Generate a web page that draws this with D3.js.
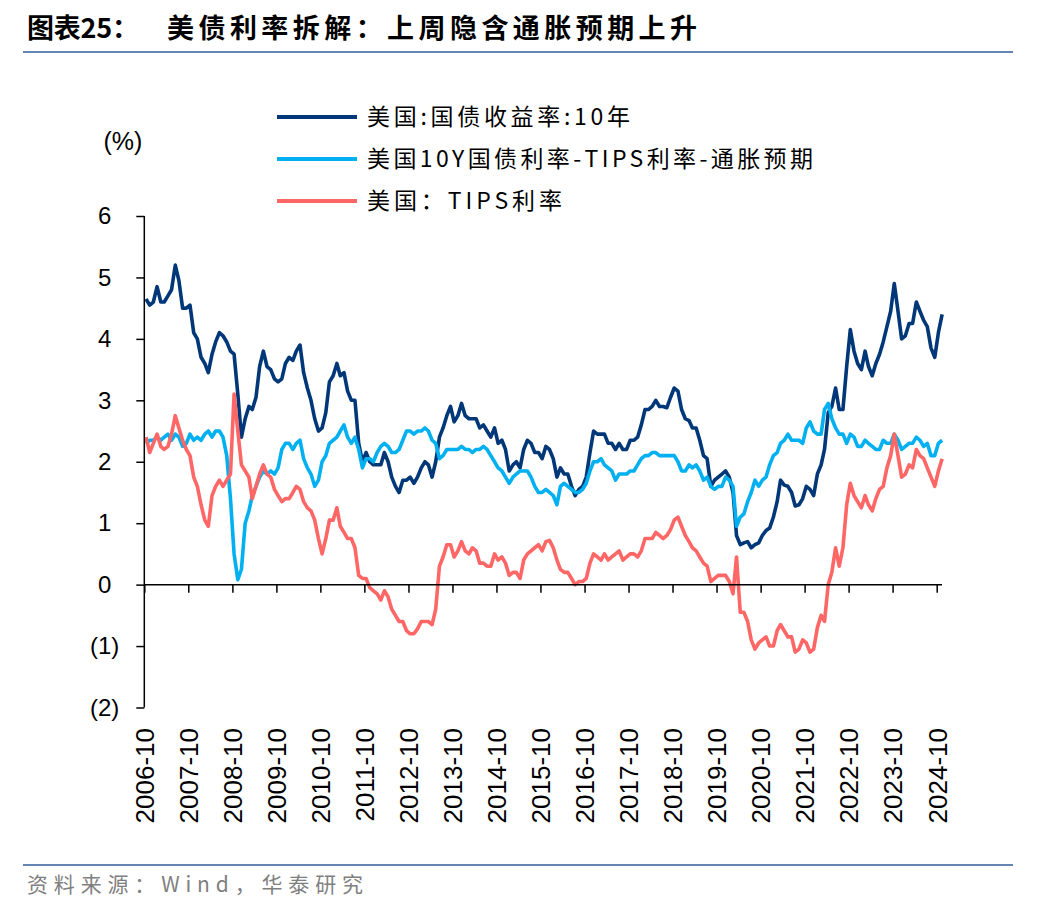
<!DOCTYPE html>
<html><head><meta charset="utf-8">
<script src="https://cdn.jsdelivr.net/npm/d3@7"></script>
<style>
html,body{margin:0;padding:0;background:#fff;}
svg{display:block;}
</style></head>
<body>
<svg id="chart" width="1044" height="916"></svg>
<script>
// ---------------- DATA (monthly, Oct 2006 – Nov 2024, %) ----------------
const startMonth = "2006-10";
const endMonth = "2024-11";

// 美国:国债收益率:10年
const nominal10y = [
  4.65,4.55,4.60,
  4.85,4.60,4.60,4.70,4.80,5.20,4.95,4.50,4.50,4.55,4.10,4.00,
  3.70,3.60,3.45,3.75,3.95,4.10,4.05,3.95,3.80,3.75,3.10,2.40,
  2.70,2.90,2.85,3.05,3.55,3.80,3.55,3.50,3.35,3.30,3.35,3.60,
  3.70,3.65,3.80,3.90,3.45,3.20,3.00,2.70,2.50,2.55,2.80,3.30,
  3.40,3.60,3.40,3.45,3.15,3.00,3.00,2.30,2.00,2.15,2.00,1.95,
  1.95,1.95,2.15,2.00,1.75,1.60,1.50,1.70,1.70,1.75,1.65,1.75,
  1.90,2.00,1.95,1.75,2.00,2.40,2.55,2.75,2.90,2.65,2.75,2.95,
  2.75,2.70,2.70,2.70,2.55,2.60,2.50,2.40,2.55,2.30,2.35,2.20,
  1.85,1.95,2.00,1.90,2.20,2.35,2.30,2.15,2.15,2.05,2.25,2.20,
  2.05,1.75,1.90,1.80,1.80,1.60,1.45,1.55,1.60,1.75,2.15,2.50,
  2.45,2.45,2.45,2.30,2.30,2.20,2.30,2.20,2.20,2.35,2.35,2.40,
  2.60,2.85,2.85,2.90,3.00,2.90,2.90,2.88,3.05,3.20,3.15,2.85,
  2.70,2.67,2.55,2.55,2.35,2.10,2.05,1.60,1.70,1.75,1.80,1.85,
  1.75,1.50,0.80,0.65,0.68,0.70,0.60,0.65,0.68,0.80,0.88,0.92,
  1.10,1.35,1.70,1.62,1.60,1.50,1.28,1.30,1.40,1.60,1.55,1.45,
  1.80,1.95,2.20,2.80,2.90,3.20,2.85,2.85,3.55,4.15,3.80,3.60,
  3.50,3.80,3.55,3.40,3.60,3.75,3.95,4.20,4.45,4.90,4.45,4.00,
  4.05,4.25,4.25,4.60,4.45,4.30,4.20,3.85,3.70,4.10,4.40
];

// 美国10Y国债利率-TIPS利率-通胀预期
const breakeven = [
  2.30,2.35,2.35,
  2.40,2.35,2.40,2.45,2.35,2.45,2.40,2.25,2.30,2.45,2.35,2.40,
  2.35,2.45,2.50,2.40,2.50,2.50,2.40,2.10,1.40,0.50,0.08,0.25,
  1.00,1.20,1.45,1.60,1.75,1.85,1.80,1.85,1.80,1.90,2.20,2.30,
  2.30,2.20,2.30,2.35,2.05,1.90,1.80,1.60,1.70,2.00,2.10,2.30,
  2.35,2.40,2.50,2.60,2.40,2.30,2.40,2.20,1.90,2.05,2.05,2.00,
  2.15,2.25,2.30,2.25,2.15,2.15,2.20,2.35,2.50,2.50,2.45,2.50,
  2.50,2.55,2.50,2.35,2.30,2.05,2.10,2.20,2.20,2.20,2.20,2.25,
  2.20,2.20,2.15,2.20,2.20,2.25,2.20,2.10,2.00,1.90,1.85,1.75,
  1.65,1.75,1.80,1.85,1.85,1.85,1.75,1.60,1.50,1.50,1.55,1.50,
  1.45,1.30,1.60,1.65,1.60,1.55,1.50,1.50,1.55,1.65,1.85,2.00,
  2.00,2.05,1.95,1.90,1.85,1.70,1.80,1.80,1.80,1.85,1.85,1.95,
  2.05,2.10,2.10,2.15,2.15,2.10,2.10,2.10,2.10,2.10,2.00,1.85,
  1.85,1.95,1.90,1.95,1.85,1.70,1.75,1.60,1.55,1.60,1.60,1.75,
  1.70,1.60,0.95,1.10,1.15,1.35,1.50,1.70,1.60,1.70,1.75,1.95,
  2.10,2.15,2.30,2.35,2.45,2.35,2.35,2.35,2.30,2.55,2.65,2.50,
  2.45,2.45,2.85,2.95,2.70,2.55,2.45,2.45,2.30,2.45,2.40,2.25,
  2.25,2.35,2.30,2.25,2.20,2.20,2.35,2.30,2.30,2.45,2.35,2.20,
  2.25,2.30,2.30,2.40,2.35,2.25,2.30,2.10,2.10,2.30,2.35
];

// 美国：TIPS利率
const tipsYield = [
  2.40,2.15,2.30,
  2.45,2.25,2.20,2.25,2.45,2.75,2.55,2.35,2.20,2.10,1.75,1.60,
  1.30,1.05,0.95,1.45,1.60,1.70,1.60,1.70,1.80,3.10,2.50,1.95,
  1.85,1.75,1.40,1.60,1.80,1.95,1.80,1.75,1.55,1.45,1.35,1.40,
  1.40,1.50,1.60,1.55,1.35,1.25,1.20,1.05,0.75,0.50,0.75,1.05,
  1.05,1.25,0.95,0.85,0.75,0.75,0.60,0.15,0.10,0.10,-0.05,-0.10,
  -0.15,-0.25,-0.10,-0.20,-0.40,-0.50,-0.60,-0.60,-0.75,-0.80,-0.80,-0.72,
  -0.60,-0.60,-0.60,-0.65,-0.40,0.30,0.45,0.65,0.65,0.45,0.55,0.70,
  0.55,0.50,0.60,0.55,0.35,0.35,0.30,0.30,0.50,0.40,0.45,0.35,
  0.15,0.20,0.20,0.10,0.40,0.50,0.55,0.60,0.65,0.55,0.70,0.72,
  0.60,0.40,0.25,0.20,0.20,0.10,0.00,0.05,0.05,0.10,0.35,0.50,
  0.45,0.40,0.50,0.40,0.45,0.50,0.55,0.40,0.45,0.50,0.50,0.45,
  0.55,0.75,0.75,0.75,0.85,0.80,0.75,0.80,0.90,1.05,1.10,0.95,
  0.80,0.70,0.60,0.55,0.45,0.35,0.30,0.05,0.10,0.15,0.15,0.15,
  0.05,-0.15,0.45,-0.45,-0.45,-0.60,-0.90,-1.05,-0.95,-0.90,-0.85,-1.00,
  -1.00,-0.75,-0.65,-0.75,-0.85,-0.85,-1.10,-1.05,-0.90,-0.95,-1.10,-1.05,
  -0.70,-0.50,-0.60,0.00,0.20,0.60,0.30,0.60,1.30,1.65,1.45,1.35,
  1.25,1.45,1.30,1.20,1.40,1.55,1.60,1.90,2.10,2.45,2.10,1.75,
  1.80,1.95,1.90,2.20,2.10,2.05,1.90,1.75,1.60,1.85,2.05
];

const tickLabels = ["2006-10","2007-10","2008-10","2009-10","2010-10","2011-10","2012-10",
  "2013-10","2014-10","2015-10","2016-10","2017-10","2018-10","2019-10","2020-10",
  "2021-10","2022-10","2023-10","2024-10"];
const yTicks = [6,5,4,3,2,1,0,-1,-2];
const yTickLabels = ["6","5","4","3","2","1","0","(1)","(2)"];

const seriesNames = ["美国:国债收益率:10年","美国10Y国债利率-TIPS利率-通胀预期","美国：TIPS利率"];
const seriesColors = ["#003778","#00B0F0","#FF6666"];

const titleLead = "图表25：";
const titleText = "美债利率拆解：上周隐含通胀预期上升";
const sourceText = "资料来源：Wind，华泰研究";

// ---------------- DRAW ----------------
const svg = d3.select("#chart");
const parseMonth = d3.timeParse("%Y-%m");
const months = d3.timeMonth.range(parseMonth(startMonth), d3.timeMonth.offset(parseMonth(endMonth), 1));
const monthMid = months.map(d => new Date(d.getFullYear(), d.getMonth(), 15));

const x = d3.scaleTime()
  .domain([new Date(2006, 9, 1), new Date(2024, 10, 14)])
  .range([144.3, 942]);
const y = d3.scaleLinear().domain([-2, 6]).range([707.5, 216]);

const cjk = "'Noto Sans CJK SC', sans-serif";
const latin = "'Liberation Sans', Arial, sans-serif";

// title
svg.append("text").attr("x", 27).attr("y", 38)
  .attr("font-family", cjk).attr("font-weight", "bold")
  .attr("font-size", 27).attr("fill", "#000")
  .attr("textLength", 112).attr("lengthAdjust", "spacing").text(titleLead);
svg.append("text").attr("x", 167).attr("y", 38)
  .attr("font-family", cjk).attr("font-weight", "bold")
  .attr("font-size", 27).attr("fill", "#000")
  .attr("textLength", 530).attr("lengthAdjust", "spacing").text(titleText);
svg.append("line").attr("x1", 23).attr("x2", 1013).attr("y1", 52).attr("y2", 52)
  .attr("stroke", "#6485b4").attr("stroke-width", 2);

// footer
svg.append("line").attr("x1", 23).attr("x2", 1013).attr("y1", 865).attr("y2", 865)
  .attr("stroke", "#6485b4").attr("stroke-width", 2);
svg.append("text").attr("x", 27).attr("y", 892)
  .attr("font-family", cjk)
  .attr("font-size", 21).attr("fill", "#7f7f7f")
  .attr("textLength", 336).attr("lengthAdjust", "spacing").text(sourceText);

// unit
svg.append("text").attr("x", 123).attr("y", 150).attr("text-anchor", "middle")
  .attr("font-family", latin).attr("font-size", 25)
  .text("(%)");

// lines
const line = d3.line().x((d, i) => x(monthMid[i])).y(d => y(d));
const allSeries = [nominal10y, breakeven, tipsYield];
const gLines = svg.append("g");
allSeries.forEach((s, k) => {
  gLines.append("path").datum(s)
    .attr("fill", "none").attr("stroke", seriesColors[k])
    .attr("stroke-width", 3.6).attr("stroke-linejoin", "round")
    .attr("d", line);
});

// y axis
const yAxis = d3.axisLeft(y).tickValues(yTicks).tickSize(8)
  .tickFormat((d, i) => yTickLabels[i]);
const gy = svg.append("g").attr("transform", "translate(144.3,0)").call(yAxis);
gy.select(".domain").attr("stroke", "#000").attr("stroke-width", 1.5).attr("d", `M0,${y(6)}V${y(-2)}`);
gy.selectAll(".tick line").attr("stroke", "#000").attr("stroke-width", 1.5);
gy.selectAll(".tick text").attr("font-family", latin)
  .attr("font-size", 24).attr("fill", "#000")
  .attr("x", d => d < 0 ? -25 : -33);

// x axis at zero
const octTicks = tickLabels.map(t => parseMonth(t));
const xAxis = d3.axisBottom(x).tickValues(octTicks).tickSize(8)
  .tickFormat((d, i) => tickLabels[i]);
const gx = svg.append("g").attr("transform", `translate(0,${y(0)})`).call(xAxis);
gx.select(".domain").attr("stroke", "#000").attr("stroke-width", 1.5)
  .attr("d", `M${x.range()[0]},0H${x.range()[1]}`);
gx.selectAll(".tick line").attr("stroke", "#000").attr("stroke-width", 1.5);
gx.selectAll(".tick text")
  .attr("font-family", latin).attr("font-size", 26)
  .attr("fill", "#000")
  .attr("text-anchor", "end")
  .attr("transform", `translate(0,${728 - y(0)}) rotate(-90)`)
  .attr("x", 0).attr("y", 0).attr("dy", "0.36em");

// legend
const legY = [117, 159, 201];
const legW = [263, 446, 195];
seriesNames.forEach((n, k) => {
  svg.append("line").attr("x1", 277).attr("x2", 357).attr("y1", legY[k]).attr("y2", legY[k])
    .attr("stroke", seriesColors[k]).attr("stroke-width", 4);
  svg.append("text").attr("x", 367).attr("y", legY[k]).attr("dy", "0.36em")
    .attr("font-family", cjk).attr("font-size", 23)
    .attr("fill", "#000")
    .attr("textLength", legW[k]).attr("lengthAdjust", "spacing").text(n);
});
</script>
</body></html>
